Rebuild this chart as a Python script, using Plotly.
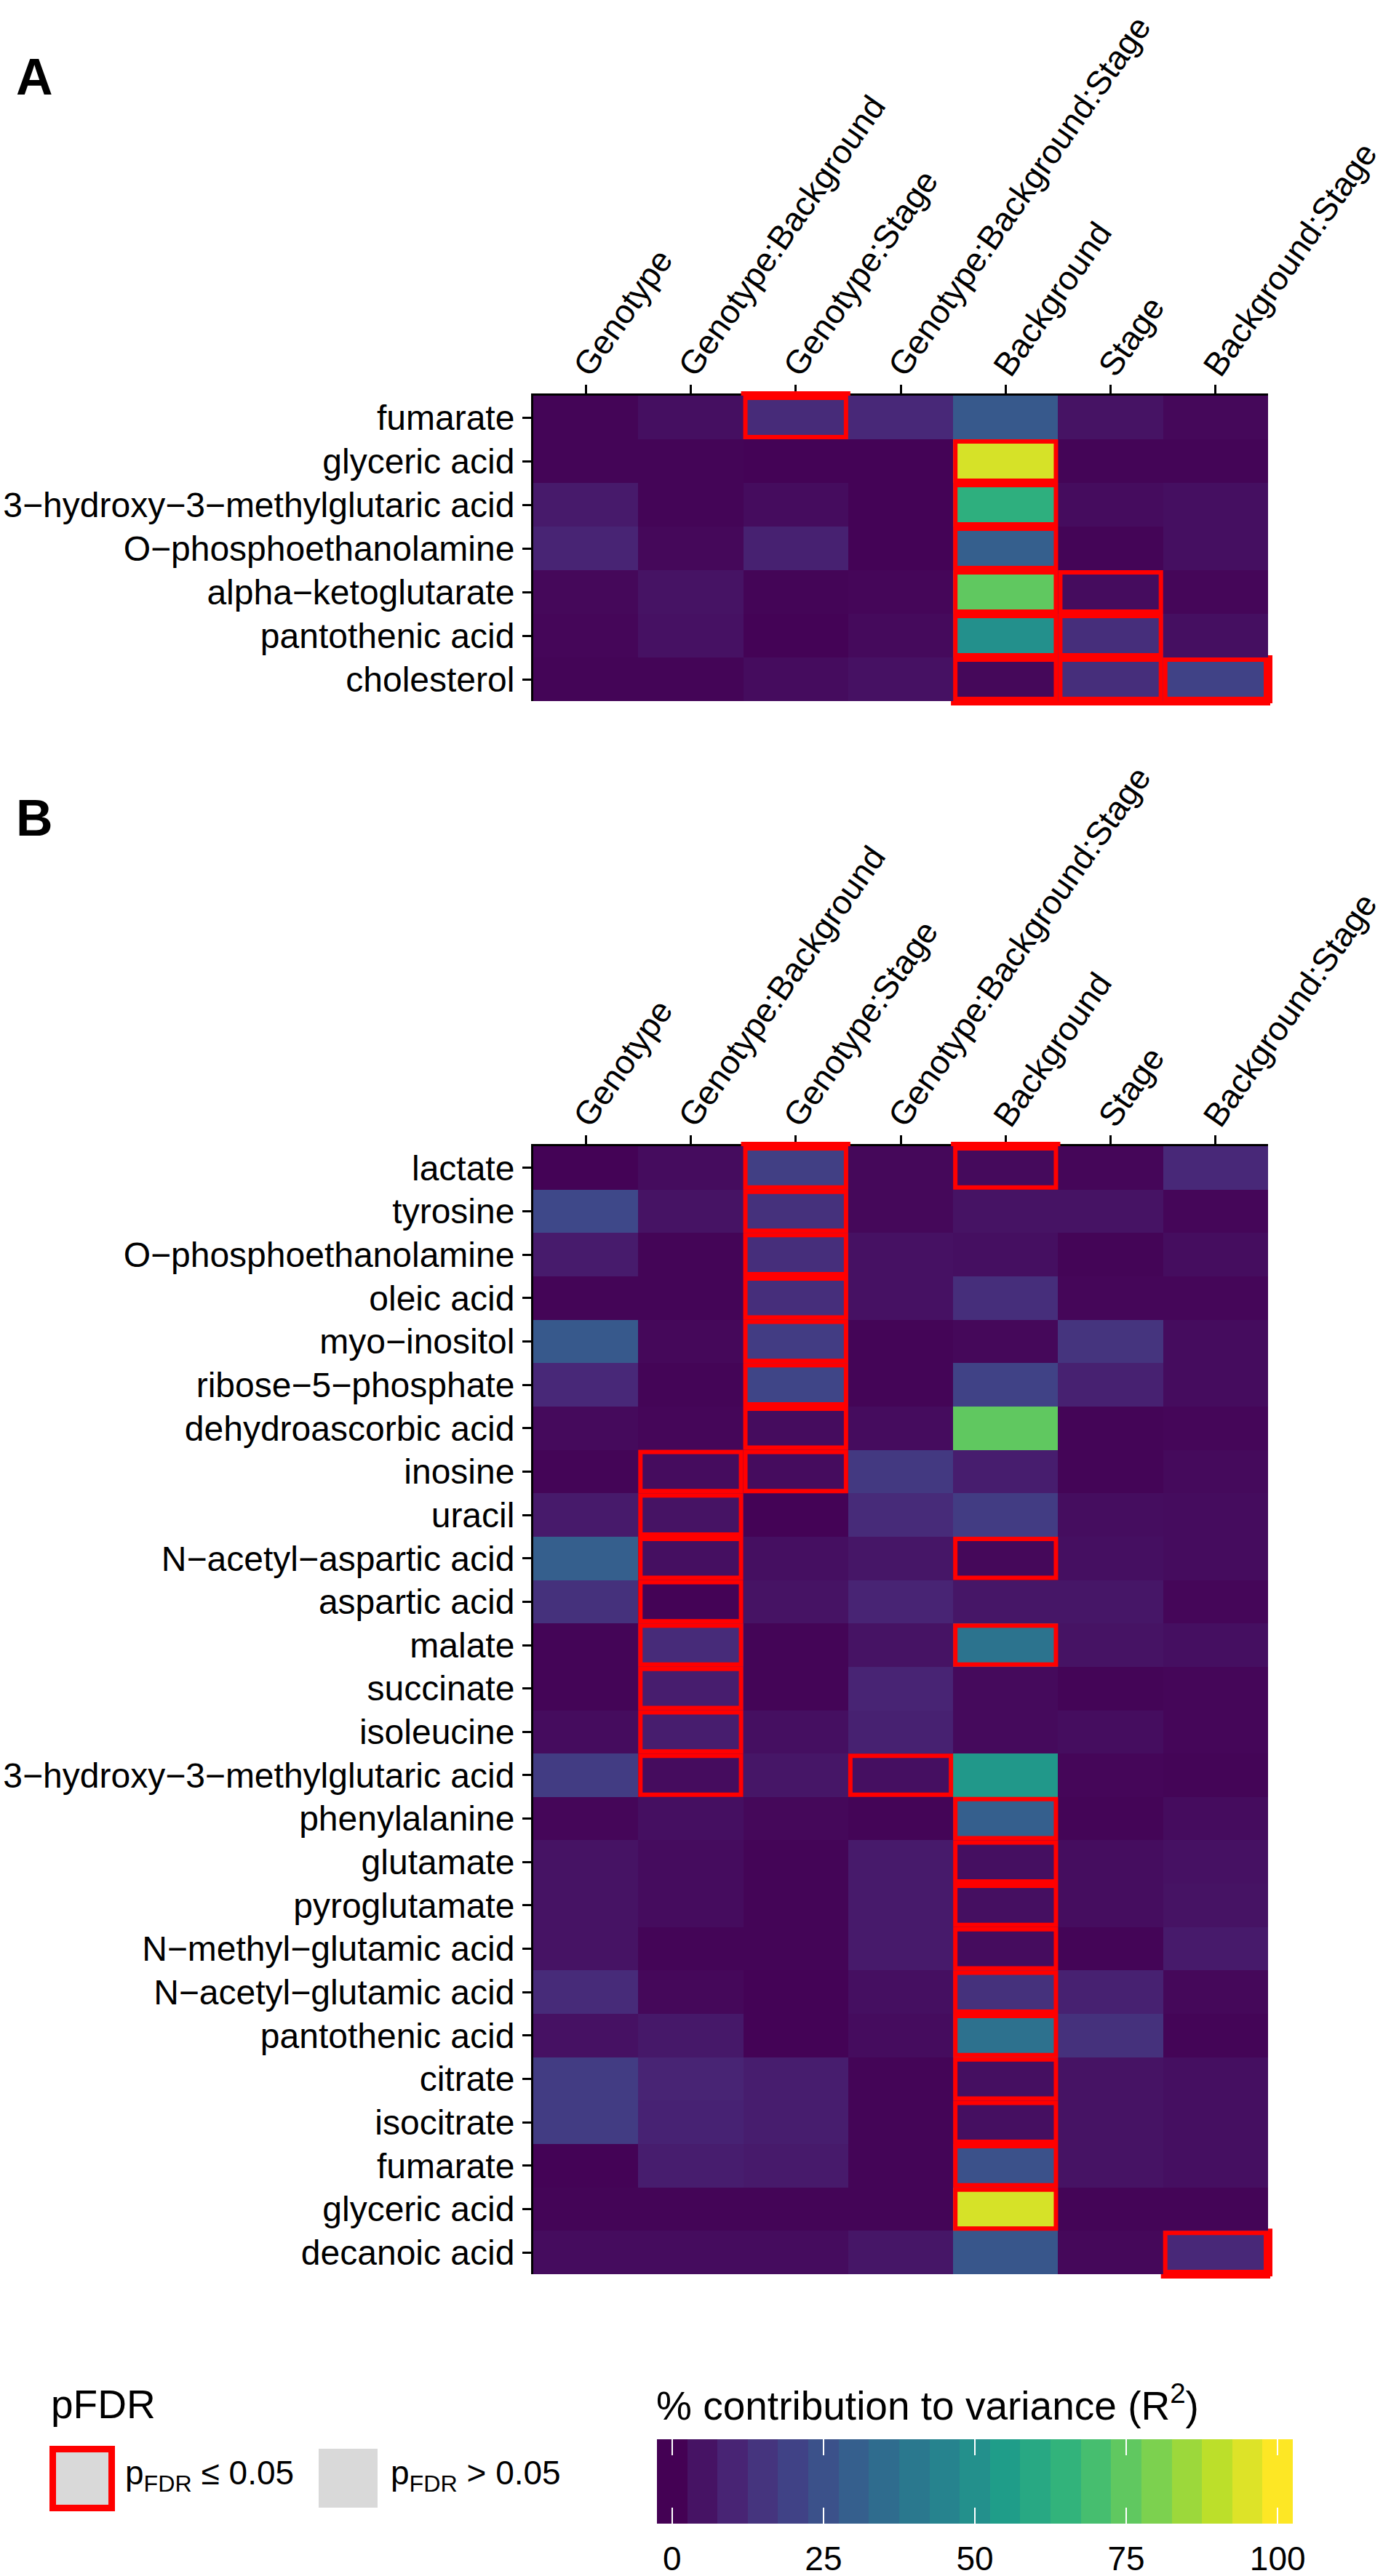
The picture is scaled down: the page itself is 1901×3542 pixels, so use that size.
import plotly.graph_objects as go

W, H = 1901, 3542
FONT = "Liberation Sans, Arial, Helvetica, sans-serif"

# ---------------- data ----------------
terms = ["Genotype", "Genotype:Background", "Genotype:Stage",
         "Genotype:Background:Stage", "Background", "Stage", "Background:Stage"]

metabolites_a = ["fumarate", "glyceric acid", "3\u2212hydroxy\u22123\u2212methylglutaric acid",
                 "O\u2212phosphoethanolamine", "alpha\u2212ketoglutarate", "pantothenic acid",
                 "cholesterol"]

r2_a = [
    [1, 4, 12, 11, 28, 5, 2],
    [1, 1, 0.5, 0.5, 94, 1, 1],
    [7, 1, 3, 0.5, 63, 3, 4],
    [10, 2, 9, 0.5, 30, 1, 4],
    [2, 5, 1, 1.5, 75, 3, 1.5],
    [1.5, 4.5, 0.5, 2.5, 50, 13, 4],
    [1, 1, 3, 4.5, 2, 13, 20],
]

sig_a = [
    [0, 0, 1, 0, 0, 0, 0],
    [0, 0, 0, 0, 1, 0, 0],
    [0, 0, 0, 0, 1, 0, 0],
    [0, 0, 0, 0, 1, 0, 0],
    [0, 0, 0, 0, 1, 1, 0],
    [0, 0, 0, 0, 1, 1, 0],
    [0, 0, 0, 0, 1, 1, 1],
]

metabolites_b = ["lactate", "tyrosine", "O\u2212phosphoethanolamine", "oleic acid", "myo\u2212inositol",
                 "ribose\u22125\u2212phosphate", "dehydroascorbic acid", "inosine", "uracil",
                 "N\u2212acetyl\u2212aspartic acid", "aspartic acid", "malate", "succinate", "isoleucine",
                 "3\u2212hydroxy\u22123\u2212methylglutaric acid", "phenylalanine", "glutamate",
                 "pyroglutamate", "N\u2212methyl\u2212glutamic acid", "N\u2212acetyl\u2212glutamic acid",
                 "pantothenic acid", "citrate", "isocitrate", "fumarate", "glyceric acid",
                 "decanoic acid"]

r2_b = [
    [0.5, 3, 19, 2, 2.5, 1.5, 11],
    [22, 5, 14, 2, 5, 5, 1.5],
    [7.5, 1, 13, 4.5, 4, 1, 3.5],
    [1, 1, 13, 4.5, 13, 1.5, 1.5],
    [28, 2, 18, 1, 2, 15, 3],
    [11, 1, 21, 1, 20, 9, 3],
    [2.5, 1.5, 3, 3, 75, 1, 1.5],
    [1, 3, 3, 17, 8, 1, 2.5],
    [7, 5, 0.5, 12, 18, 3.5, 3],
    [30, 4, 4, 6, 2, 4, 3],
    [14, 0.5, 5, 10, 6, 6, 1.5],
    [1, 12, 1, 5, 38, 5, 4],
    [1, 8, 1, 10, 2.5, 1, 1.5],
    [3, 8, 4, 9, 2.5, 3.5, 1.5],
    [18, 3, 6, 4, 53, 1.5, 1],
    [1.5, 4, 2, 1, 30, 1, 3],
    [5, 3, 1, 7, 4, 3.5, 4.5],
    [5, 3, 1, 7, 4, 3.5, 5],
    [5, 1, 1, 7, 3, 1, 7],
    [12, 2, 0.5, 4, 14, 9, 2],
    [4.5, 6.5, 0.5, 3, 37, 14, 1],
    [18, 10, 8, 1, 4, 5, 4],
    [18, 9.5, 8, 1, 4, 5, 4],
    [0.5, 8, 7, 1, 25, 5, 4],
    [1, 1, 1, 1, 94, 1, 1],
    [3, 3, 3, 6, 27, 2, 11],
]

sig_b = [
    [0, 0, 1, 0, 1, 0, 0],
    [0, 0, 1, 0, 0, 0, 0],
    [0, 0, 1, 0, 0, 0, 0],
    [0, 0, 1, 0, 0, 0, 0],
    [0, 0, 1, 0, 0, 0, 0],
    [0, 0, 1, 0, 0, 0, 0],
    [0, 0, 1, 0, 0, 0, 0],
    [0, 1, 1, 0, 0, 0, 0],
    [0, 1, 0, 0, 0, 0, 0],
    [0, 1, 0, 0, 1, 0, 0],
    [0, 1, 0, 0, 0, 0, 0],
    [0, 1, 0, 0, 1, 0, 0],
    [0, 1, 0, 0, 0, 0, 0],
    [0, 1, 0, 0, 0, 0, 0],
    [0, 1, 0, 1, 0, 0, 0],
    [0, 0, 0, 0, 1, 0, 0],
    [0, 0, 0, 0, 1, 0, 0],
    [0, 0, 0, 0, 1, 0, 0],
    [0, 0, 0, 0, 1, 0, 0],
    [0, 0, 0, 0, 1, 0, 0],
    [0, 0, 0, 0, 1, 0, 0],
    [0, 0, 0, 0, 1, 0, 0],
    [0, 0, 0, 0, 1, 0, 0],
    [0, 0, 0, 0, 1, 0, 0],
    [0, 0, 0, 0, 1, 0, 0],
    [0, 0, 0, 0, 0, 0, 1],
]

legend_breaks = [0, 25, 50, 75, 100]
legend_bins = list(range(0, 101, 5))

# ---------------- layout geometry (pixels) ----------------
PX_L, PX_R = 733, 1743
PANEL_A = (544, 964)
PANEL_B = (1576, 3127)
CB_X = (903, 1777)
CB_Y = (3354, 3470)


def fx(p):
    return p / W


def fy(p):
    return 1 - p / H


fig = go.Figure()

for z, rows, xa, ya in [(r2_a, metabolites_a, "x", "y"), (r2_b, metabolites_b, "x2", "y2")]:
    fig.add_trace(go.Heatmap(
        z=z, x=terms, y=rows, xaxis=xa, yaxis=ya,
        colorscale="Viridis", zmin=0, zmax=100, showscale=False,
        hovertemplate="%{y}<br>%{x}<br>R\u00b2 = %{z}%<extra></extra>"))

# colour legend bar
fig.add_trace(go.Heatmap(
    z=[legend_bins], x=legend_bins, y=[0], xaxis="x3", yaxis="y3",
    colorscale="Viridis", zmin=0, zmax=100, showscale=False, hoverinfo="skip"))


def xaxis_cfg(ya):
    return dict(domain=[fx(PX_L), fx(PX_R)], anchor=ya, side="top",
                range=[-0.5, len(terms) - 0.5], type="category",
                tickangle=-55, ticks="outside", ticklen=12, tickwidth=3,
                tickcolor="black", showline=True, linewidth=3, linecolor="black",
                showgrid=False, zeroline=False,
                tickfont=dict(family=FONT, size=46, color="black"),
                ticklabelstandoff=-20, ticklabelshift=-12,
                fixedrange=True, automargin=False)


def yaxis_cfg(xa, top, bottom, n):
    return dict(domain=[fy(bottom), fy(top)], anchor=xa,
                range=[n - 0.5, -0.5], type="category",
                ticks="outside", ticklen=12, tickwidth=3, tickcolor="black",
                showline=True, linewidth=3, linecolor="black",
                showgrid=False, zeroline=False,
                tickfont=dict(family=FONT, size=48, color="black"),
                ticklabelstandoff=1, fixedrange=True, automargin=False)


fig.update_layout(
    template="none",
    width=W, height=H, autosize=False,
    margin=dict(l=0, r=0, t=0, b=0, pad=0),
    paper_bgcolor="white", plot_bgcolor="white",
    font=dict(family=FONT, color="black"),
    xaxis=xaxis_cfg("y"),
    yaxis=yaxis_cfg("x", PANEL_A[0], PANEL_A[1], len(metabolites_a)),
    xaxis2=xaxis_cfg("y2"),
    yaxis2=yaxis_cfg("x2", PANEL_B[0], PANEL_B[1], len(metabolites_b)),
    xaxis3=dict(domain=[fx(CB_X[0]), fx(CB_X[1])], anchor="y3",
                range=[-2.5, 102.5], tickvals=legend_breaks,
                ticks="inside", ticklen=22, tickwidth=2, tickcolor="white",
                mirror="ticks", showline=False, showgrid=False, zeroline=False,
                tickfont=dict(family=FONT, size=46, color="black"),
                ticklabelstandoff=17, fixedrange=True, automargin=False),
    yaxis3=dict(domain=[fy(CB_Y[1]), fy(CB_Y[0])], anchor="x3",
                range=[-0.5, 0.5], visible=False, fixedrange=True, automargin=False),
    showlegend=False,
)

# ---------------- significance boxes ----------------
BW = 6  # border width (px)
shapes = []


def add_boxes(sig, xa, ya, top, bottom):
    nrow, ncol = len(sig), len(sig[0])
    cw = (PX_R - PX_L) / ncol
    rh = (bottom - top) / nrow
    dx, dy = (BW / 2) / cw, (BW / 2) / rh
    for r, row in enumerate(sig):
        for c, s in enumerate(row):
            if not s:
                continue
            shapes.append(dict(type="rect", xref=xa, yref=ya, layer="above",
                               x0=c - 0.5 + dx, x1=c + 0.5 - dx,
                               y0=r - 0.5 + dy, y1=r + 0.5 - dy,
                               line=dict(color="#FF0000", width=BW), fillcolor="rgba(0,0,0,0)"))
            # outer half of the border where the tile sits on the panel edge
            x0p, x1p = PX_L + c * cw, PX_L + (c + 1) * cw
            y0p, y1p = top + r * rh, top + (r + 1) * rh
            strips = []
            if r == 0:
                strips.append((x0p - 3, y0p - BW, x1p + 3, y0p))
            if r == nrow - 1:
                strips.append((x0p - 3, y1p, x1p + 3, y1p + BW))
            if c == ncol - 1:
                strips.append((x1p, y0p - 3, x1p + BW, y1p + 3))
            if c == 0:
                strips.append((x0p - BW, y0p - 3, x0p, y1p + 3))
            for a, b, cc, d in strips:
                shapes.append(dict(type="rect", xref="paper", yref="paper", layer="above",
                                   x0=fx(a), x1=fx(cc), y0=fy(d), y1=fy(b),
                                   line=dict(width=0), fillcolor="#FF0000"))


add_boxes(sig_a, "x", "y", *PANEL_A)
add_boxes(sig_b, "x2", "y2", *PANEL_B)

# legend keys
shapes.append(dict(type="rect", xref="paper", yref="paper",
                   x0=fx(72.5), x1=fx(153.5), y0=fy(3448.5), y1=fy(3367.5),
                   line=dict(color="#FF0000", width=9), fillcolor="#D9D9D9"))
shapes.append(dict(type="rect", xref="paper", yref="paper",
                   x0=fx(438), x1=fx(519), y0=fy(3448), y1=fy(3367),
                   line=dict(width=0), fillcolor="#D9D9D9"))

fig.update_layout(shapes=shapes)

# ---------------- annotations ----------------
ann = []
ann.append(dict(text="<b>A</b>", x=fx(20), y=fy(106), xref="paper", yref="paper",
                xanchor="left", yanchor="middle", showarrow=False,
                font=dict(family=FONT, size=70, color="black")))
ann.append(dict(text="<b>B</b>", x=fx(20), y=fy(1125), xref="paper", yref="paper",
                xanchor="left", yanchor="middle", showarrow=False,
                font=dict(family=FONT, size=70, color="black")))
ann.append(dict(text="pFDR", x=fx(68), y=fy(3306), xref="paper", yref="paper",
                xanchor="left", yanchor="middle", showarrow=False,
                font=dict(family=FONT, size=55, color="black")))
ann.append(dict(text="% contribution to variance (R<sup>2</sup>)", x=fx(900), y=fy(3304),
                xref="paper", yref="paper", xanchor="left", yanchor="middle", showarrow=False,
                font=dict(family=FONT, size=55, color="black")))
ann.append(dict(text="p<sub>FDR</sub> \u2264 0.05", x=fx(170), y=fy(3403),
                xref="paper", yref="paper", xanchor="left", yanchor="middle", showarrow=False,
                font=dict(family=FONT, size=46, color="black")))
ann.append(dict(text="p<sub>FDR</sub> > 0.05", x=fx(535), y=fy(3403),
                xref="paper", yref="paper", xanchor="left", yanchor="middle", showarrow=False,
                font=dict(family=FONT, size=46, color="black")))
fig.update_layout(annotations=ann)

fig.write_html("out.html", include_plotlyjs=True,
               config={"displayModeBar": False, "staticPlot": True},
               post_script="document.body.style.margin='0px';")
